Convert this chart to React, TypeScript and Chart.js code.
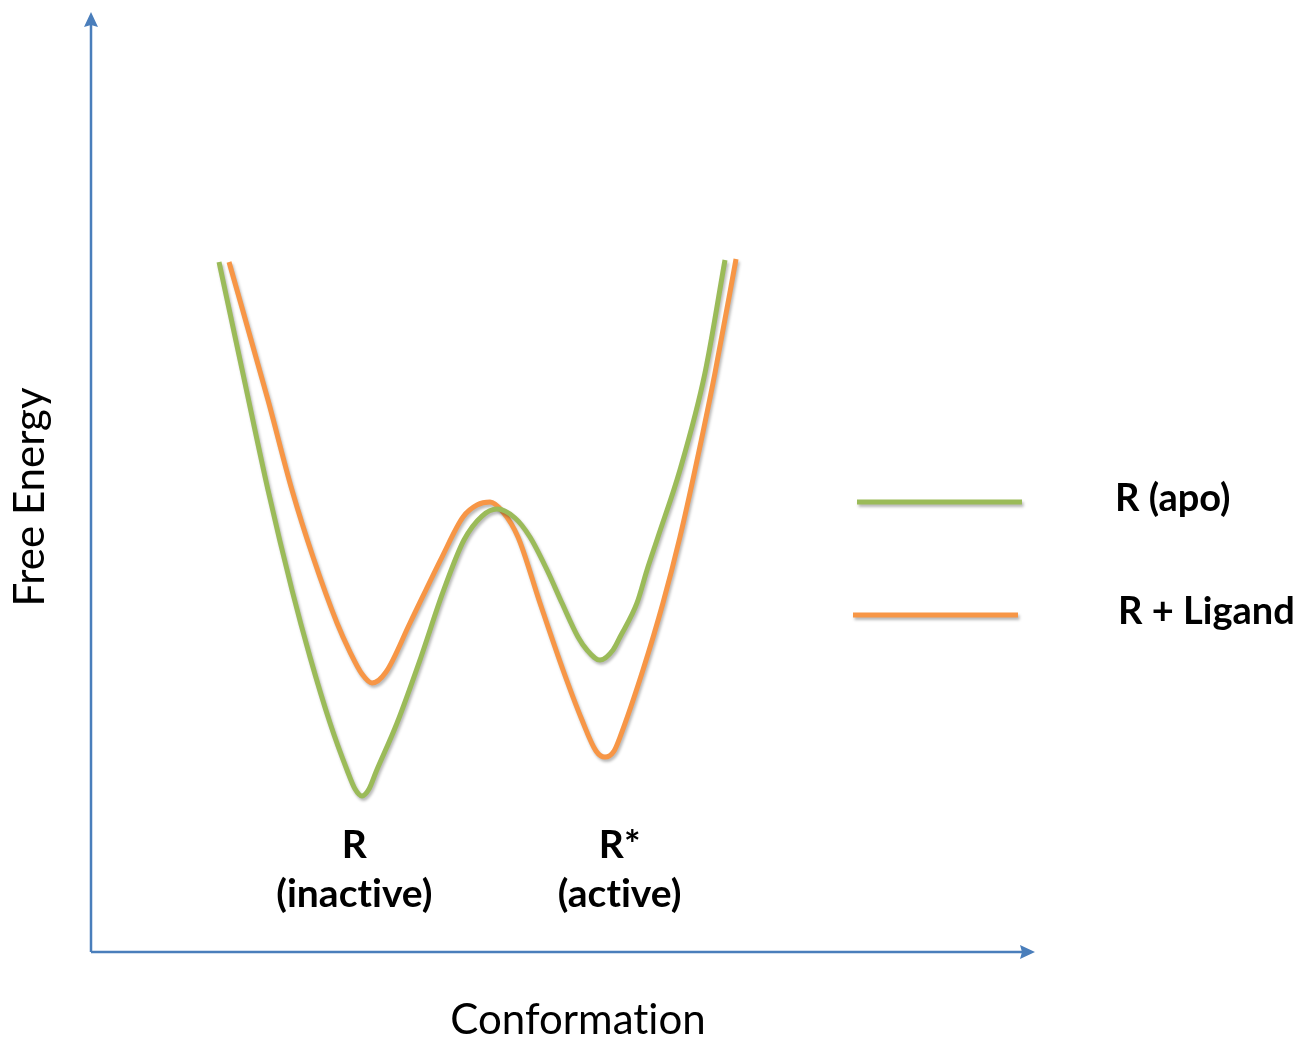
import React, { useEffect, useRef } from 'react';
import { Chart, registerables } from 'chart.js';

Chart.register(...registerables);

// ---- data (arbitrary units: conformation 0–100, free energy 0–100) ----
const seriesNames = ['R (apo)', 'R + Ligand'];
const seriesColors = ['#9BBB59', '#F79646'];

const apoX = [13.56, 16.15, 18.75, 21.29, 23.2, 25.32, 27.12, 27.97, 28.71, 29.45, 30.19, 32.42, 34.96, 37.29, 39.51, 41.42, 43.01, 44.92, 46.5, 48.31, 49.89, 51.59, 52.54, 53.92, 55.3, 56.04, 57.84, 58.9, 60.06, 62.39, 65.04, 67.16];
const apoY = [73.4, 61.28, 49.15, 38.51, 31.38, 24.36, 19.36, 17.34, 16.6, 17.34, 19.15, 24.36, 31.38, 38.3, 43.83, 46.38, 47.13, 46.17, 44.15, 40.64, 37.13, 33.51, 32.13, 31.06, 32.13, 33.51, 37.13, 40.64, 44.15, 51.28, 61.6, 73.62];

const ligandX = [14.62, 18.75, 21.29, 23.52, 26.06, 27.44, 28.71, 29.77, 31.25, 33.79, 37.18, 39.41, 40.89, 42.27, 43.64, 45.23, 47.56, 50.0, 52.01, 53.5, 54.45, 55.4, 56.04, 58.47, 60.59, 62.39, 63.98, 66.1, 68.33];
const ligandY = [73.4, 58.72, 49.15, 42.02, 35.0, 31.91, 29.57, 28.62, 29.79, 35.0, 42.02, 46.28, 47.55, 47.87, 46.81, 44.15, 37.13, 30.0, 24.68, 21.38, 20.74, 21.38, 22.87, 30.0, 37.13, 44.15, 51.28, 61.6, 73.72];

const stateLabels = [['R', '(inactive)'], ['R*', '(active)']];
const stateX = [27.9, 56.0];

const xAxisTitle = 'Conformation';
const yAxisTitle = 'Free Energy';

const AXIS_COLOR = '#4A7EBB';
const FONT = 'Lato, "Open Sans", sans-serif';

function setShadow(ctx: CanvasRenderingContext2D) {
  ctx.shadowColor = 'rgba(0,0,0,0.28)';
  ctx.shadowBlur = 3;
  ctx.shadowOffsetX = 1.5;
  ctx.shadowOffsetY = 2.5;
}

function noLig(ctx: any) {
  try { ctx.letterSpacing = '0.01px'; } catch (e) { /* ignore */ }
}

const shadowPlugin = {
  id: 'lineShadow',
  beforeDatasetDraw(chart: any) {
    const ctx = chart.ctx;
    ctx.save();
    setShadow(ctx);
  },
  afterDatasetDraw(chart: any) {
    chart.ctx.restore();
  },
};

const decorPlugin = {
  id: 'decor',
  afterDraw(chart: any) {
    const ctx: CanvasRenderingContext2D = chart.ctx;
    const { left, right, top, bottom } = chart.chartArea;
    const xs = chart.scales.x;

    // axes with arrowheads
    ctx.save();
    ctx.strokeStyle = AXIS_COLOR;
    ctx.fillStyle = AXIS_COLOR;
    ctx.lineWidth = 2.5;
    ctx.beginPath();
    ctx.moveTo(left, bottom);
    ctx.lineTo(left, top + 12);
    ctx.moveTo(left, bottom);
    ctx.lineTo(right - 12, bottom);
    ctx.stroke();
    ctx.beginPath();
    ctx.moveTo(left, top);
    ctx.lineTo(left - 7, top + 15);
    ctx.lineTo(left, top + 13);
    ctx.lineTo(left + 7, top + 15);
    ctx.closePath();
    ctx.fill();
    ctx.beginPath();
    ctx.moveTo(right, bottom);
    ctx.lineTo(right - 15, bottom - 7);
    ctx.lineTo(right - 13, bottom);
    ctx.lineTo(right - 15, bottom + 7);
    ctx.closePath();
    ctx.fill();
    ctx.restore();

    // axis titles
    ctx.save();
    noLig(ctx);
    ctx.fillStyle = '#000';
    ctx.font = `42px ${FONT}`;
    ctx.textAlign = 'center';
    ctx.textBaseline = 'middle';
    ctx.fillText(xAxisTitle, 578, bottom + 68);
    ctx.translate(30, 497);
    ctx.rotate(-Math.PI / 2);
    ctx.fillText(yAxisTitle, 0, 0);
    ctx.restore();

    // state labels under the minima
    ctx.save();
    noLig(ctx);
    ctx.fillStyle = '#000';
    ctx.font = `bold 39px ${FONT}`;
    ctx.textAlign = 'center';
    ctx.textBaseline = 'middle';
    stateLabels.forEach((lines, i) => {
      const px = xs.getPixelForValue(stateX[i]);
      lines.forEach((t, j) => ctx.fillText(t, px, 845 + j * 49));
    });
    ctx.restore();

    // legend
    chart.data.datasets.forEach((ds: any, i: number) => {
      const y = 502 + i * 113;
      const x0 = 857 - i * 4;
      ctx.save();
      setShadow(ctx);
      ctx.strokeStyle = ds.borderColor;
      ctx.lineWidth = 5;
      ctx.beginPath();
      ctx.moveTo(x0, y);
      ctx.lineTo(x0 + 165, y);
      ctx.stroke();
      ctx.restore();
      ctx.save();
      noLig(ctx);
      ctx.fillStyle = '#000';
      ctx.font = `bold 38px ${FONT}`;
      ctx.textAlign = 'left';
      ctx.textBaseline = 'middle';
      ctx.fillText(ds.label, 1115 + i * 3, y - 3);
      ctx.restore();
    });
  },
};

export default function App() {
  const ref = useRef<HTMLCanvasElement | null>(null);

  useEffect(() => {
    if (!ref.current) return;
    const mk = (xsArr: number[], ysArr: number[]) => xsArr.map((x, i) => ({ x, y: ysArr[i] }));
    const chart = new Chart(ref.current, {
      type: 'line',
      data: {
        datasets: [
          {
            label: seriesNames[0],
            data: mk(apoX, apoY),
            borderColor: seriesColors[0],
            borderWidth: 5,
            pointRadius: 0,
            cubicInterpolationMode: 'monotone',
            fill: false,
          },
          {
            label: seriesNames[1],
            data: mk(ligandX, ligandY),
            borderColor: seriesColors[1],
            borderWidth: 5,
            pointRadius: 0,
            cubicInterpolationMode: 'monotone',
            fill: false,
          },
        ],
      },
      options: {
        animation: false,
        responsive: true,
        maintainAspectRatio: false,
        layout: { padding: { left: 91, top: 12, right: 265, bottom: 87 } },
        scales: {
          x: { type: 'linear', min: 0, max: 100, display: false },
          y: { type: 'linear', min: 0, max: 100, display: false },
        },
        plugins: {
          legend: { display: false },
          tooltip: { enabled: false },
        },
        elements: { line: { borderCapStyle: 'butt', borderJoinStyle: 'round' } },
      },
      plugins: [shadowPlugin, decorPlugin],
    } as any);
    return () => chart.destroy();
  }, []);

  return (
    <div style={{ position: 'fixed', left: 0, top: 0, width: 1300, height: 1039, background: '#fff' }}>
      <canvas ref={ref} />
    </div>
  );
}
